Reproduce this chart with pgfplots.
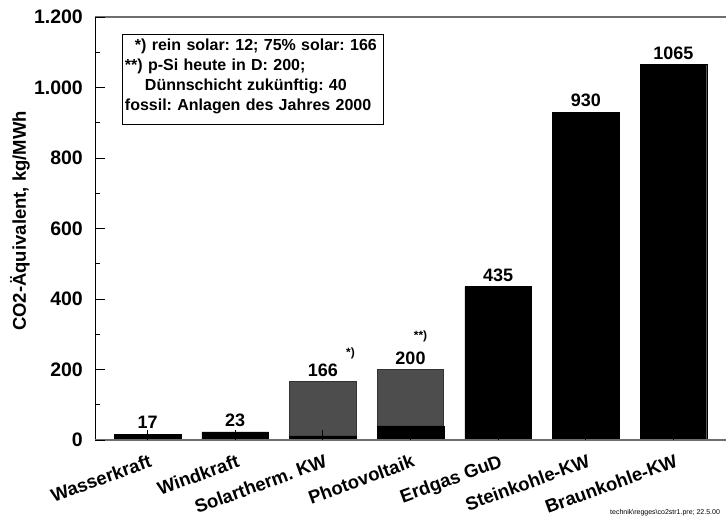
\documentclass[border=0pt]{standalone}
\usepackage{pgfplots}
\pgfplotsset{compat=1.18}
\usepackage{fontspec}
\setmainfont{Liberation Sans}
\frenchspacing
\definecolor{barGray}{RGB}{77,77,77}
\definecolor{axGray}{RGB}{110,110,110}
\newcommand{\bigfnt}{\fontsize{18.5bp}{20bp}\selectfont\bfseries}
\newcommand{\ytfnt}{\fontsize{19.5bp}{20bp}\selectfont\bfseries}
\newcommand{\valfnt}{\fontsize{18bp}{20bp}\selectfont\bfseries}
\begin{document}
\begin{tikzpicture}
\useasboundingbox (0,0) rectangle (726bp,522bp);
\begin{axis}[
  at={(95bp,82bp)}, anchor=south west,
  scale only axis, width=631bp, height=423bp,
  xmin=-0.6, xmax=6.6, ymin=0, ymax=1200,
  axis line style={draw=none},
  axis on top,
  clip=false,
  ybar, bar width=0.76,
  xtick={0,...,6},
  xticklabels={Wasserkraft, Windkraft, Solartherm. KW, Photovoltaik, Erdgas GuD, Steinkohle-KW, Braunkohle-KW},
  ytick={0,200,...,1200},
  yticklabels={0,200,400,600,800,1.000,1.200},
  minor ytick={100,300,...,1100},
  tick align=inside, tick pos=left,
  major tick length=10bp, minor tick length=5bp,
  tick style={black, line width=0.8bp},
  x tick label style={font=\bigfnt, rotate=20, anchor=north east, inner sep=0pt, xshift=-4bp, yshift=-13bp},
  y tick label style={font=\ytfnt, anchor=east, inner sep=0pt, xshift=-12bp},
  ylabel={CO2-Äquivalent, kg/MWh},
  ylabel style={font=\bigfnt, at={(axis description cs:-0.119,0.518)}, anchor=center},
]
\addplot[fill=barGray, draw=black!80, line width=0.8bp, bar shift=0pt] coordinates {(2,166) (3,200)};
\addplot[fill=black, draw=black, bar shift=0pt] coordinates {(0,17) (1,23) (2,12) (3,40) (4,435) (5,930) (6,1065)};
\addplot[draw=none, fill=none, bar shift=0pt, point meta=explicit symbolic,
  nodes near coords, nodes near coords style={font=\valfnt, anchor=south, inner sep=0pt, yshift=5bp}]
  coordinates {(0,17)[17] (1,23)[23] (2,166)[166] (3,200)[200] (4,435)[435] (5,930)[930] (6,1065)[1065]};
\draw[black, line width=1bp] (rel axis cs:0,0) -- (rel axis cs:0,1);
\draw[axGray, line width=1.2bp] (rel axis cs:0,0) -- (rel axis cs:1,0);
\draw[axGray, line width=1.2bp] (rel axis cs:0,1) -- (rel axis cs:1,1);
\node[font=\fontsize{12bp}{14bp}\selectfont\bfseries] at (axis cs:2.316,247) {*)};
\node[font=\fontsize{12bp}{14bp}\selectfont\bfseries] at (axis cs:3.115,295) {**)};
\node[draw=black, line width=0.8bp, anchor=north west, text width=255bp, inner xsep=3bp, inner ysep=5bp, align=left,
  font=\fontsize{16bp}{20bp}\selectfont\bfseries] at (axis cs:-0.297,1152)
  {\hspace*{10bp}*) rein solar: 12; 75\% solar: 166\\{}%
   **) p-Si heute in D: 200;\\{}%
   \hspace*{20bp}Dünnschicht zukünftig: 40\\{}%
   fossil: Anlagen des Jahres 2000\rule[-8bp]{0pt}{8bp}};
\end{axis}
\node[anchor=west, font=\fontsize{7bp}{8bp}\selectfont, inner sep=0pt] at (610bp,9bp) {technik\textbackslash regges\textbackslash co2str1.pre; 22.5.00};
\end{tikzpicture}
\end{document}
